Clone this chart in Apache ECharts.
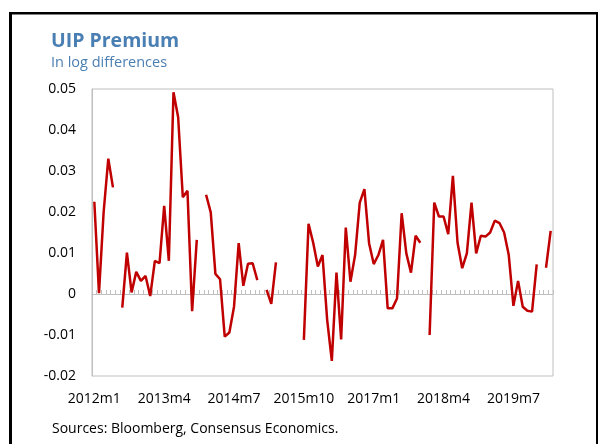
<!DOCTYPE html>
<html>
<head>
    <meta charset="UTF-8">
    <title>UIP Premium</title>
    <script src="https://cdn.jsdelivr.net/npm/echarts@6/dist/echarts.min.js"></script>
    <style>
        html, body { margin: 0; padding: 0; background: #fff; }
        #chart { width: 601px; height: 444px; }
    </style>
</head>
<body>
    <div id="chart"></div>
    <script>
        // monthly categories 2012m1 .. 2020m3
        var startYear = 2012, monthCount = 99;
        var months = [];
        for (var k = 0; k < monthCount; k++) {
            months.push((startYear + Math.floor(k / 12)) + 'm' + (k % 12 + 1));
        }

        // UIP premium, log differences (null = no observation)
        var premium = [
            0.0225, 0.0002, 0.020, 0.033, 0.026, null, -0.0033, 0.0101, 0.0004, 0.0054,
            0.0032, 0.0044, -0.0005, 0.0081, 0.0075, 0.0215, 0.0081, 0.0492, 0.0431, 0.0236,
            0.0252, -0.0042, 0.0132, null, 0.0242, 0.0199, 0.0049, 0.0036, -0.0104, -0.0094,
            -0.0031, 0.0124, 0.0020, 0.0074, 0.0075, 0.0034, null, 0.0010, -0.0024, 0.0077,
            null, null, null, null, null, -0.0112, 0.0171, 0.0125, 0.0067, 0.0095,
            -0.0063, -0.0163, 0.0052, -0.0111, 0.0162, 0.0030, 0.0095, 0.0223, 0.0256, 0.0124,
            0.0073, 0.0095, 0.0132, -0.0035, -0.0035, -0.0011, 0.0197, 0.0099, 0.0052, 0.0142,
            0.0125, null, -0.0100, 0.0223, 0.0189, 0.0189, 0.0146, 0.0288, 0.0125, 0.0063,
            0.0099, 0.0223, 0.0099, 0.0142, 0.0140, 0.0150, 0.0179, 0.0173, 0.0150, 0.0095,
            -0.0029, 0.0032, -0.0031, -0.0041, -0.0043, 0.0072, null, 0.0064, 0.0154
        ];

        var yMin = -0.02, yMax = 0.05, yStep = 0.01;
        var labelEvery = 15;

        var font = '"Open Sans", "Noto Sans", sans-serif';
        var myChart = echarts.init(document.getElementById('chart'));

        var option = {
            backgroundColor: '#fff',
            animation: false,
            textStyle: { fontFamily: font },
            title: {
                text: 'UIP Premium',
                subtext: 'In log differences',
                left: 46,
                top: 26,
                itemGap: 4,
                textStyle: { fontFamily: font, fontSize: 19.5, fontWeight: 'bold', color: '#4a7fb3' },
                subtextStyle: { fontFamily: font, fontSize: 14.5, color: '#4a7fb3' }
            },
            graphic: [
                { type: 'rect', shape: { x: 9, y: 12, width: 3, height: 432 }, style: { fill: '#000' } },
                { type: 'rect', shape: { x: 9, y: 12, width: 589, height: 2.5 }, style: { fill: '#000' } },
                { type: 'rect', shape: { x: 596, y: 12, width: 2, height: 432 }, style: { fill: '#000' } },
                {
                    type: 'text', left: 52, top: 422,
                    style: { text: 'Sources: Bloomberg, Consensus Economics.', fontFamily: font, fontSize: 14, fill: '#000' }
                }
            ],
            grid: {
                left: 92, right: 48, top: 89, bottom: 68,
                show: true, borderColor: '#bfbfbf', borderWidth: 1, backgroundColor: 'transparent'
            },
            xAxis: [{
                type: 'category',
                data: months,
                boundaryGap: true,
                axisLine: { show: false, onZero: false },
                axisTick: { show: false },
                axisLabel: {
                    interval: labelEvery - 1,
                    margin: 16,
                    fontSize: 14,
                    color: '#000',
                    fontFamily: font
                },
                splitLine: { show: false }
            }, {
                type: 'category',
                data: months,
                boundaryGap: true,
                position: 'bottom',
                axisLine: { show: true, onZero: true, lineStyle: { color: '#bfbfbf', width: 1 } },
                axisTick: { show: true, inside: true, length: 4, interval: 0, lineStyle: { color: '#bfbfbf' } },
                axisLabel: { show: false },
                splitLine: { show: false }
            }],
            yAxis: {
                type: 'value',
                min: yMin,
                max: yMax,
                interval: yStep,
                axisLine: { show: true, lineStyle: { color: '#bfbfbf' } },
                axisTick: { show: false },
                splitLine: { show: false },
                axisLabel: {
                    margin: 16,
                    fontSize: 14,
                    color: '#000',
                    fontFamily: font,
                    formatter: function (v) {
                        return Math.abs(v) < 1e-9 ? '0' : v.toFixed(2);
                    }
                }
            },
            series: [{
                name: 'UIP Premium',
                type: 'line',
                data: premium,
                symbol: 'none',
                connectNulls: false,
                lineStyle: { color: '#c00000', width: 2.5 },
                itemStyle: { color: '#c00000' }
            }]
        };

        myChart.setOption(option);
    </script>
</body>
</html>
